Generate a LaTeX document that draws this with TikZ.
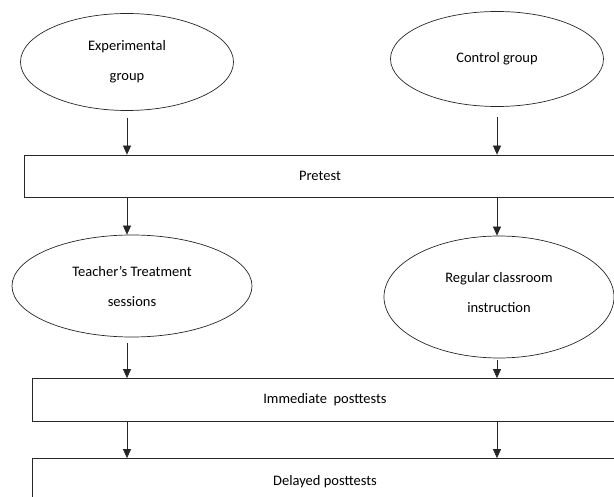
\documentclass[tikz,border=0pt]{standalone}
\usepackage{fontspec}
\setmainfont{Carlito}
\usetikzlibrary{shapes.geometric,arrows.meta}

\begin{document}
\begin{tikzpicture}[x=1pt, y=-1pt, line width=0.7pt, draw=black!85,
        main/.style = {draw, ellipse, inner sep=0pt, align=center, font=\fontsize{14.5}{30}\selectfont},
        box/.style = {draw, rectangle, inner sep=0pt, font=\fontsize{14.5}{17}\selectfont},
        arr/.style = {-{Triangle[length=9pt, width=8pt]}}]
        \useasboundingbox (0,0) rectangle (614,497);
        \clip (0,0) rectangle (614,497);
        \node[main, minimum width=213pt, minimum height=97pt] (1) at (127,62) {Experimental\\group};
        \node[main, minimum width=213pt, minimum height=95pt] (2) at (497,59) {Control group};
        \node[box, minimum width=592pt, minimum height=42pt] (3) at (320,176) {Pretest};
        \node[main, minimum width=240pt, minimum height=102pt] (4) at (132,286) {Teacher’s Treatment\\sessions};
        \node[main, minimum width=230pt, minimum height=122pt] (5) at (499,297) {Regular classroom\\instruction\\[-20pt]};
        \node[box, minimum width=586pt, minimum height=43pt] (6) at (325,400) {Immediate\ \ posttests};
        \node[box, minimum width=586pt, minimum height=47pt] (7) at (325,482) {Delayed posttests};
        % left column
        \draw[arr] ([yshift=-7pt]1.south) -- (1 |- 3.north);
        \draw[arr] (3.south -| 1) -- (4.north -| 1);
        \draw[arr] ([yshift=-6pt]4.south -| 1) -- (6.north -| 1);
        \draw[arr] (6.south -| 1) -- (7.north -| 1);
        % right column
        \draw[arr] ([yshift=-10pt]2.south) -- (2 |- 3.north);
        \draw[arr] (3.south -| 2) -- (5.north -| 2);
        \draw[arr] ([yshift=-2pt]5.south -| 2) -- (6.north -| 2);
        \draw[arr] (6.south -| 2) -- (7.north -| 2);
    \end{tikzpicture}
\end{document}
